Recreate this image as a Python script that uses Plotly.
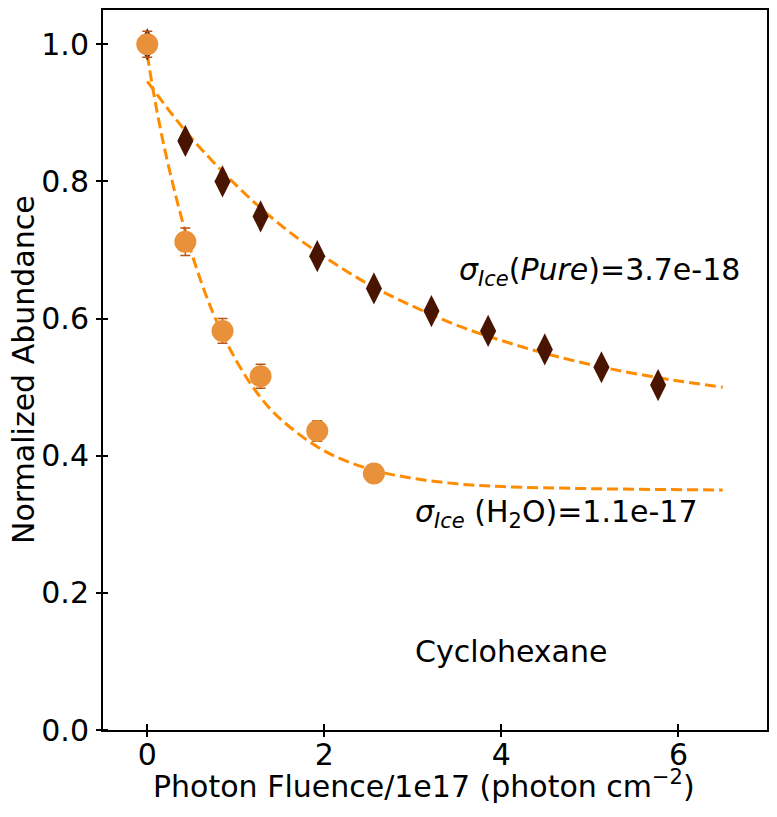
import plotly.graph_objects as go

# Data
fluence_pure = [0.0, 0.43, 0.85, 1.28, 1.92, 2.56, 3.21, 3.85, 4.49, 5.13, 5.77]
abund_pure = [1.0, 0.859, 0.800, 0.749, 0.691, 0.644, 0.611, 0.582, 0.555, 0.529, 0.503]
err_pure = [0.01, 0.008, 0.008, 0.008, 0.008, 0.008, 0.008, 0.008, 0.008, 0.008, 0.008]

fluence_h2o = [0.0, 0.43, 0.85, 1.28, 1.92, 2.56]
abund_h2o = [1.0, 0.712, 0.582, 0.516, 0.436, 0.374]
err_h2o = [0.019, 0.020, 0.018, 0.0175, 0.015, 0.008]

fit_x_pure = [0.0, 0.25, 0.5, 1.0, 1.5, 2.0, 2.5, 3.0, 3.5, 4.0, 4.5, 5.0, 5.5, 6.0, 6.5]
fit_y_pure = [0.946, 0.903, 0.863, 0.795, 0.737, 0.690, 0.650, 0.618, 0.590, 0.568, 0.549, 0.533, 0.520, 0.509, 0.500]

fit_x_h2o = [0.0, 0.1, 0.25, 0.5, 0.75, 1.0, 1.25, 1.5, 2.0, 2.5, 3.0, 3.5, 4.0, 5.0, 6.5]
fit_y_h2o = [0.985, 0.909, 0.817, 0.696, 0.606, 0.540, 0.490, 0.454, 0.407, 0.381, 0.367, 0.359, 0.355, 0.352, 0.350]

x_ticks = [0, 2, 4, 6]
y_ticks = [0.0, 0.2, 0.4, 0.6, 0.8, 1.0]

FONT = "DejaVu Sans"
FS = 30
LINE_C = "#ff8c00"
DIAM_C = "#4a1500"
CIRC_C = "#e8913a"

fig = go.Figure()

fig.add_trace(go.Scatter(x=fit_x_pure, y=fit_y_pure, mode="lines", line_shape="spline",
                         line=dict(color=LINE_C, width=3, dash="11px,5px"), showlegend=False))
fig.add_trace(go.Scatter(x=fit_x_h2o, y=fit_y_h2o, mode="lines", line_shape="spline",
                         line=dict(color=LINE_C, width=3, dash="11px,5px"), showlegend=False))

fig.add_trace(go.Scatter(x=fluence_pure, y=abund_pure, mode="markers",
                         marker=dict(symbol="diamond-tall", size=23, color=DIAM_C),
                         error_y=dict(type="data", array=err_pure, color=DIAM_C, thickness=1.5, width=4),
                         showlegend=False))
fig.add_trace(go.Scatter(x=fluence_h2o, y=abund_h2o, mode="markers",
                         marker=dict(symbol="circle", size=22, color=CIRC_C),
                         error_y=dict(type="data", array=err_h2o, color="#b8561a", thickness=1.5, width=5),
                         showlegend=False))

ann_font = dict(family=FONT, size=FS, color="black")
fig.add_annotation(x=3.5, y=0.668, xref="x", yref="y", xanchor="left", yanchor="middle",
                   text="<i>σ</i><sub><i>Ice</i></sub>(<i>Pure</i>)=3.7e-18",
                   showarrow=False, font=ann_font)
fig.add_annotation(x=3.0, y=0.316, xref="x", yref="y", xanchor="left", yanchor="middle",
                   text="<i>σ</i><sub><i>Ice</i></sub> (H<sub>2</sub>O)=1.1e-17",
                   showarrow=False, font=ann_font)
fig.add_annotation(x=3.0, y=0.115, xref="x", yref="y", xanchor="left", yanchor="middle",
                   text="Cyclohexane", showarrow=False, font=ann_font)

# axis titles
fig.add_annotation(x=0.5, y=0, xref="paper", yref="paper", xanchor="center", yanchor="middle",
                   xshift=-11, yshift=-54, text="Photon Fluence/1e17 (photon cm<sup>−2</sup>)",
                   showarrow=False, font=ann_font)
fig.add_annotation(x=0, y=0.5, xref="paper", yref="paper", xanchor="center", yanchor="middle",
                   xshift=-80, textangle=-90, text="Normalized Abundance",
                   showarrow=False, font=ann_font)

axis_common = dict(showline=True, linecolor="black", linewidth=2, mirror=True,
                   ticks="outside", ticklen=5, tickwidth=2, tickcolor="black",
                   showgrid=False, zeroline=False, automargin=False,
                   tickfont=dict(family=FONT, size=FS, color="black"))

fig.update_xaxes(range=[-0.5, 7.0], tickvals=x_ticks, ticktext=[str(v) for v in x_ticks],
                 ticklabelstandoff=-8,
                 minor=dict(tickvals=x_ticks, ticks="inside", ticklen=6, tickwidth=2,
                            tickcolor="black", showgrid=False),
                 **axis_common)
fig.update_yaxes(range=[0.0, 1.05], tickvals=y_ticks, ticktext=[f"{v:.1f}" for v in y_ticks],
                 ticklabelstandoff=1,
                 minor=dict(tickvals=y_ticks, ticks="inside", ticklen=5, tickwidth=2,
                            tickcolor="black", showgrid=False),
                 **axis_common)

fig.update_layout(width=769, height=809, margin=dict(l=95, r=10, t=2, b=87, autoexpand=False),
                  plot_bgcolor="white", paper_bgcolor="white",
                  font=dict(family=FONT, color="black"))

fig.write_html("out.html")
